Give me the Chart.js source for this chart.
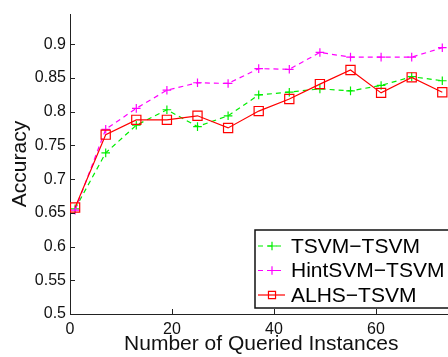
<!DOCTYPE html>
<html>
<head>
<meta charset="utf-8">
<script src="https://cdn.jsdelivr.net/npm/chart.js@4.4.0/dist/chart.umd.min.js"></script>
<style>
  html, body { margin: 0; padding: 0; background: #fff; overflow: hidden; }
  #wrap { position: relative; width: 470px; height: 357px; }
</style>
</head>
<body>
<div id="wrap"><canvas id="c"></canvas></div>
<script>
// 查询样本数 (x) 与三条曲线的准确率
var QUERIED = [1, 7, 13, 19, 25, 31, 37, 43, 49, 55, 61, 67, 73];
var TSVM_TSVM = [0.656, 0.739, 0.780, 0.803, 0.778, 0.794, 0.825, 0.829, 0.834, 0.831, 0.839, 0.852, 0.846];
var HINTSVM_TSVM = [0.654, 0.774, 0.805, 0.832, 0.843, 0.842, 0.864, 0.863, 0.888, 0.881, 0.881, 0.881, 0.895];
var ALHS_TSVM = [0.658, 0.766, 0.788, 0.788, 0.794, 0.776, 0.801, 0.819, 0.841, 0.862, 0.828, 0.851, 0.829];
var SERIES_NAMES = ["TSVM\u2212TSVM", "HintSVM\u2212TSVM", "ALHS\u2212TSVM"];
var X_TICKS = [0, 20, 40, 60];
var Y_TICKS = [0.5, 0.55, 0.6, 0.65, 0.7, 0.75, 0.8, 0.85, 0.9];

var FONT = "'Liberation Sans', Arial, Helvetica, sans-serif";

function toPoints(ys) {
  return ys.map(function (y, i) { return { x: QUERIED[i], y: y }; });
}

/** MATLAB 风格：刻度线朝内 */
var innerTicks = {
  id: "innerTicks",
  afterDraw: function (chart) {
    var ctx = chart.ctx;
    var xs = chart.scales.x, ys = chart.scales.y;
    var a = chart.chartArea;
    ctx.save();
    ctx.strokeStyle = "#222";
    ctx.lineWidth = 1;
    ctx.beginPath();
    X_TICKS.forEach(function (v) {
      var px = Math.round(xs.getPixelForValue(v)) + 0.5;
      ctx.moveTo(px, a.bottom);
      ctx.lineTo(px, a.bottom - 5);
    });
    Y_TICKS.forEach(function (v) {
      var py = Math.round(ys.getPixelForValue(v)) + 0.5;
      ctx.moveTo(a.left, py);
      ctx.lineTo(a.left + 5, py);
    });
    ctx.stroke();
    ctx.restore();
  },
};

/** 图内右下角图例 */
var insideLegend = {
  id: "insideLegend",
  afterDraw: function (chart) {
    var ctx = chart.ctx;
    var a = chart.chartArea;
    var left = a.left + 185, top = a.bottom - 84, rowH = 24.5;
    ctx.save();
    ctx.font = "21px " + FONT;
    var maxW = 0;
    chart.data.datasets.forEach(function (ds) {
      maxW = Math.max(maxW, ctx.measureText(ds.label).width);
    });
    var w = 36 + maxW + 10, h = 78;
    ctx.fillStyle = "#fff";
    ctx.fillRect(left, top, w, h);
    ctx.strokeStyle = "#111";
    ctx.lineWidth = 1.5;
    ctx.strokeRect(left, top, w, h);

    chart.data.datasets.forEach(function (ds, i) {
      var cy = top + 16 + i * rowH;
      ctx.strokeStyle = ds.borderColor;
      ctx.lineWidth = ds.borderWidth;
      ctx.setLineDash(ds.borderDash || []);
      ctx.beginPath();
      ctx.moveTo(left + 3, cy);
      ctx.lineTo(left + 30, cy);
      ctx.stroke();
      ctx.setLineDash([]);
      ctx.fillStyle = "rgba(0,0,0,0)";
      Chart.helpers.drawPoint(ctx, {
        pointStyle: ds.pointStyle,
        radius: ds.pointStyle === "rect" ? 5 : ds.pointRadius,
        rotation: 0,
        borderWidth: ds.borderWidth,
      }, left + 17, cy);
      ctx.fillStyle = "#000";
      ctx.textBaseline = "middle";
      ctx.fillText(ds.label, left + 36, cy + 1);
    });
    ctx.restore();
  },
};

var lineBase = {
  borderWidth: 1.2,
  pointBackgroundColor: "rgba(0,0,0,0)",
  pointBorderWidth: 1.2,
  tension: 0,
  fill: false,
};

new Chart(document.getElementById("c"), {
  type: "line",
  data: {
    datasets: [
      Object.assign({}, lineBase, {
        label: SERIES_NAMES[0],
        data: toPoints(TSVM_TSVM),
        borderColor: "#00ee00",
        pointBorderColor: "#00ee00",
        borderDash: [5, 4],
        pointStyle: "cross",
        pointRadius: 4.3,
        order: 2,
      }),
      Object.assign({}, lineBase, {
        label: SERIES_NAMES[1],
        data: toPoints(HINTSVM_TSVM),
        borderColor: "#ff00ff",
        pointBorderColor: "#ff00ff",
        borderDash: [5, 4],
        pointStyle: "cross",
        pointRadius: 4.3,
        order: 1,
      }),
      Object.assign({}, lineBase, {
        label: SERIES_NAMES[2],
        data: toPoints(ALHS_TSVM),
        borderColor: "#ff0000",
        pointBorderColor: "#ff0000",
        pointStyle: "rect",
        pointRadius: 6.5,
        order: 0,
      }),
    ],
  },
  options: {
    responsive: true,
    maintainAspectRatio: false,
    animation: false,
    layout: { padding: { top: 14, right: 17.5, left: 0, bottom: 0 } },
    plugins: { legend: { display: false }, tooltip: { enabled: false } },
    scales: {
      x: {
        type: "linear",
        min: 0,
        max: 75,
        afterBuildTicks: function (s) { s.ticks = X_TICKS.map(function (v) { return { value: v }; }); },
        afterFit: function (s) { s.height = 43; },
        grid: { display: false, drawTicks: false },
        border: { display: true, color: "#222", width: 1 },
        ticks: { color: "#111", font: { family: FONT, size: 16 }, padding: 6, maxRotation: 0 },
        title: { display: true, text: "Number of Queried Instances", color: "#111", font: { family: FONT, size: 21 }, padding: 0 },
      },
      y: {
        min: 0.5,
        max: 0.945,
        afterBuildTicks: function (s) { s.ticks = Y_TICKS.map(function (v) { return { value: v }; }); },
        afterFit: function (s) { s.width = 70; },
        grid: { display: false, drawTicks: false },
        border: { display: true, color: "#222", width: 1 },
        ticks: {
          color: "#111",
          font: { family: FONT, size: 16 },
          padding: 4,
          callback: function (v) { return String(Math.round(v * 100) / 100); },
        },
        title: { display: true, text: "Accuracy", color: "#111", font: { family: FONT, size: 21 }, padding: { top: 8, bottom: 0 } },
      },
    },
  },
  plugins: [innerTicks, insideLegend],
});
</script>
</body>
</html>
